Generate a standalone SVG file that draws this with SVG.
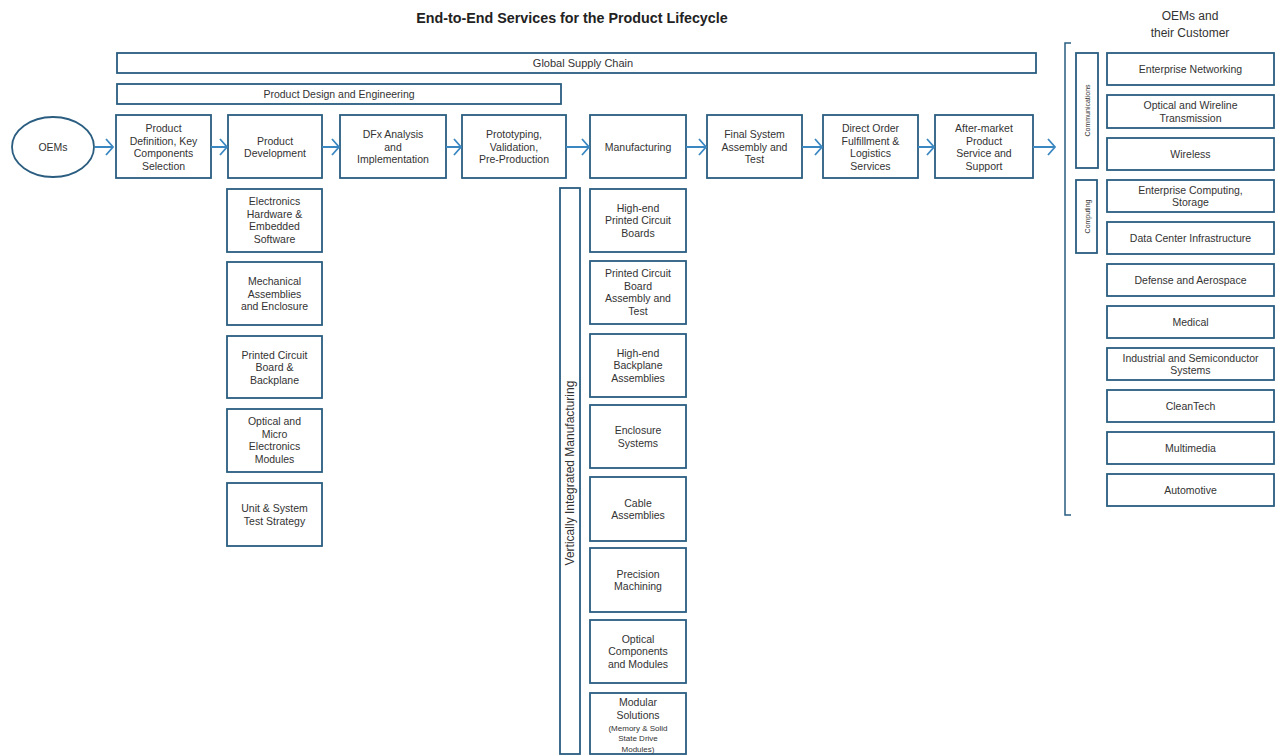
<svg xmlns="http://www.w3.org/2000/svg" width="1276" height="756" viewBox="0 0 1276 756">
<style>
.b{fill:#fff;stroke:#2a5d80;stroke-width:1.8}
.t{font-family:"Liberation Sans",Arial,sans-serif;font-size:10.5px;fill:#333;text-anchor:middle}
.s{font-family:"Liberation Sans",Arial,sans-serif;font-size:8px;fill:#333;text-anchor:middle}
.a{fill:none;stroke:#3a87c2;stroke-width:1.8}
</style>
<rect width="1276" height="756" fill="#fff"/>
<text x="572" y="23" font-family="Liberation Sans,Arial,sans-serif" font-size="14.3" font-weight="bold" fill="#222" text-anchor="middle">End-to-End Services for the Product Lifecycle</text>
<g id="customers-title"><text class="t" x="1190" y="20" style="font-size:12px">OEMs and</text><text class="t" x="1190" y="37" style="font-size:12px">their Customer</text></g>

<g id="global-supply-chain"><rect class="b" x="117" y="53" width="919" height="20"/><text class="t" x="583" y="67" style="font-size:11px">Global Supply Chain</text></g>
<g id="product-design"><rect class="b" x="117" y="84" width="444" height="20"/><text class="t" x="339" y="98">Product Design and Engineering</text></g>

<g id="oems"><ellipse class="b" cx="53" cy="147" rx="41" ry="30"/><text class="t" x="53" y="151">OEMs</text></g>

<g id="p1"><rect class="b" x="116" y="115" width="95" height="63"/><text class="t" x="163.5" y="132">Product</text><text class="t" x="163.5" y="144.5">Definition, Key</text><text class="t" x="163.5" y="157">Components</text><text class="t" x="163.5" y="169.5">Selection</text></g>
<g id="p2"><rect class="b" x="228" y="115" width="94" height="63"/><text class="t" x="275" y="144.5">Product</text><text class="t" x="275" y="157">Development</text></g>
<g id="p3"><rect class="b" x="340" y="115" width="106" height="63"/><text class="t" x="393" y="138">DFx Analysis</text><text class="t" x="393" y="150.5">and</text><text class="t" x="393" y="163">Implementation</text></g>
<g id="p4"><rect class="b" x="462" y="115" width="104" height="63"/><text class="t" x="514" y="138">Prototyping,</text><text class="t" x="514" y="150.5">Validation,</text><text class="t" x="514" y="163">Pre-Production</text></g>
<g id="p5"><rect class="b" x="590" y="115" width="96" height="63"/><text class="t" x="638" y="150.5">Manufacturing</text></g>
<g id="p6"><rect class="b" x="707" y="115" width="95" height="63"/><text class="t" x="754.5" y="138">Final System</text><text class="t" x="754.5" y="150.5">Assembly and</text><text class="t" x="754.5" y="163">Test</text></g>
<g id="p7"><rect class="b" x="823" y="115" width="95" height="63"/><text class="t" x="870.5" y="132">Direct Order</text><text class="t" x="870.5" y="144.5">Fulfillment &amp;</text><text class="t" x="870.5" y="157">Logistics</text><text class="t" x="870.5" y="169.5">Services</text></g>
<g id="p8"><rect class="b" x="935" y="115" width="98" height="63"/><text class="t" x="984" y="132">After-market</text><text class="t" x="984" y="144.5">Product</text><text class="t" x="984" y="157">Service and</text><text class="t" x="984" y="169.5">Support</text></g>

<g id="connectors">
<path class="a" d="M95 147H113M106 139L113 147L106 155"/>
<path class="a" d="M211 147H227M220 139L227 147L220 155"/>
<path class="a" d="M322 147H339M332 139L339 147L332 155"/>
<path class="a" d="M446 147H461M454 139L461 147L454 155"/>
<path class="a" d="M566 147H589M582 139L589 147L582 155"/>
<path class="a" d="M686 147H706M699 139L706 147L699 155"/>
<path class="a" d="M802 147H822M815 139L822 147L815 155"/>
<path class="a" d="M918 147H934M927 139L934 147L927 155"/>
<path class="a" d="M1033 147H1055M1048 139L1055 147L1048 155"/>
</g>

<g id="d1"><rect class="b" x="227" y="189" width="95" height="63"/><text class="t" x="274.5" y="205">Electronics</text><text class="t" x="274.5" y="217.5">Hardware &amp;</text><text class="t" x="274.5" y="230">Embedded</text><text class="t" x="274.5" y="242.5">Software</text></g>
<g id="d2"><rect class="b" x="227" y="262" width="95" height="63"/><text class="t" x="274.5" y="285">Mechanical</text><text class="t" x="274.5" y="297.5">Assemblies</text><text class="t" x="274.5" y="310">and Enclosure</text></g>
<g id="d3"><rect class="b" x="227" y="336" width="95" height="62"/><text class="t" x="274.5" y="358.5">Printed Circuit</text><text class="t" x="274.5" y="371">Board &amp;</text><text class="t" x="274.5" y="383.5">Backplane</text></g>
<g id="d4"><rect class="b" x="227" y="409" width="95" height="63"/><text class="t" x="274.5" y="425">Optical and</text><text class="t" x="274.5" y="437.5">Micro</text><text class="t" x="274.5" y="450">Electronics</text><text class="t" x="274.5" y="462.5">Modules</text></g>
<g id="d5"><rect class="b" x="227" y="483" width="95" height="63"/><text class="t" x="274.5" y="512">Unit &amp; System</text><text class="t" x="274.5" y="524.5">Test Strategy</text></g>

<g id="vim"><rect class="b" x="560" y="188" width="20" height="566"/><text class="t" transform="translate(574 473) rotate(-90)" style="font-size:12px">Vertically Integrated Manufacturing</text></g>

<g id="m1"><rect class="b" x="590" y="189" width="96" height="63"/><text class="t" x="638" y="211.5">High-end</text><text class="t" x="638" y="224">Printed Circuit</text><text class="t" x="638" y="236.5">Boards</text></g>
<g id="m2"><rect class="b" x="590" y="261" width="96" height="63"/><text class="t" x="638" y="277">Printed Circuit</text><text class="t" x="638" y="289.5">Board</text><text class="t" x="638" y="302">Assembly and</text><text class="t" x="638" y="314.5">Test</text></g>
<g id="m3"><rect class="b" x="590" y="334" width="96" height="63"/><text class="t" x="638" y="356.5">High-end</text><text class="t" x="638" y="369">Backplane</text><text class="t" x="638" y="381.5">Assemblies</text></g>
<g id="m4"><rect class="b" x="590" y="405" width="96" height="63"/><text class="t" x="638" y="434">Enclosure</text><text class="t" x="638" y="446.5">Systems</text></g>
<g id="m5"><rect class="b" x="590" y="477" width="96" height="64"/><text class="t" x="638" y="506.5">Cable</text><text class="t" x="638" y="519">Assemblies</text></g>
<g id="m6"><rect class="b" x="590" y="548" width="96" height="64"/><text class="t" x="638" y="577.5">Precision</text><text class="t" x="638" y="590">Machining</text></g>
<g id="m7"><rect class="b" x="590" y="620" width="96" height="63"/><text class="t" x="638" y="642.5">Optical</text><text class="t" x="638" y="655">Components</text><text class="t" x="638" y="667.5">and Modules</text></g>
<g id="m8"><rect class="b" x="590" y="693" width="96" height="61"/><text class="t" x="638" y="706">Modular</text><text class="t" x="638" y="718.5">Solutions</text><text class="s" x="638" y="730.5">(Memory &amp; Solid</text><text class="s" x="638" y="741">State Drive</text><text class="s" x="638" y="751.5">Modules)</text></g>

<g id="bracket"><path fill="none" stroke="#2a5d80" stroke-width="1.5" d="M1071 43H1065V515H1071"/></g>
<g id="communications"><rect class="b" x="1076" y="53" width="22" height="115"/><text class="s" transform="translate(1090 110.5) rotate(-90)" style="font-size:7px">Communications</text></g>
<g id="computing"><rect class="b" x="1076" y="180" width="21" height="73"/><text class="s" transform="translate(1089.5 216.5) rotate(-90)" style="font-size:7px">Computing</text></g>

<g id="c1"><rect class="b" x="1107" y="53" width="167" height="32"/><text class="t" x="1190.5" y="72.5">Enterprise Networking</text></g>
<g id="c2"><rect class="b" x="1107" y="95" width="167" height="33"/><text class="t" x="1190.5" y="109">Optical and Wireline</text><text class="t" x="1190.5" y="121.5">Transmission</text></g>
<g id="c3"><rect class="b" x="1107" y="138" width="167" height="32"/><text class="t" x="1190.5" y="157.5">Wireless</text></g>
<g id="c4"><rect class="b" x="1107" y="180" width="167" height="32"/><text class="t" x="1190.5" y="193.5">Enterprise Computing,</text><text class="t" x="1190.5" y="206">Storage</text></g>
<g id="c5"><rect class="b" x="1107" y="222" width="167" height="32"/><text class="t" x="1190.5" y="241.5">Data Center Infrastructure</text></g>
<g id="c6"><rect class="b" x="1107" y="264" width="167" height="32"/><text class="t" x="1190.5" y="283.5">Defense and Aerospace</text></g>
<g id="c7"><rect class="b" x="1107" y="306" width="167" height="32"/><text class="t" x="1190.5" y="325.5">Medical</text></g>
<g id="c8"><rect class="b" x="1107" y="348" width="167" height="32"/><text class="t" x="1190.5" y="361.5">Industrial and Semiconductor</text><text class="t" x="1190.5" y="374">Systems</text></g>
<g id="c9"><rect class="b" x="1107" y="390" width="167" height="32"/><text class="t" x="1190.5" y="409.5">CleanTech</text></g>
<g id="c10"><rect class="b" x="1107" y="432" width="167" height="32"/><text class="t" x="1190.5" y="451.5">Multimedia</text></g>
<g id="c11"><rect class="b" x="1107" y="474" width="167" height="32"/><text class="t" x="1190.5" y="493.5">Automotive</text></g>
</svg>
